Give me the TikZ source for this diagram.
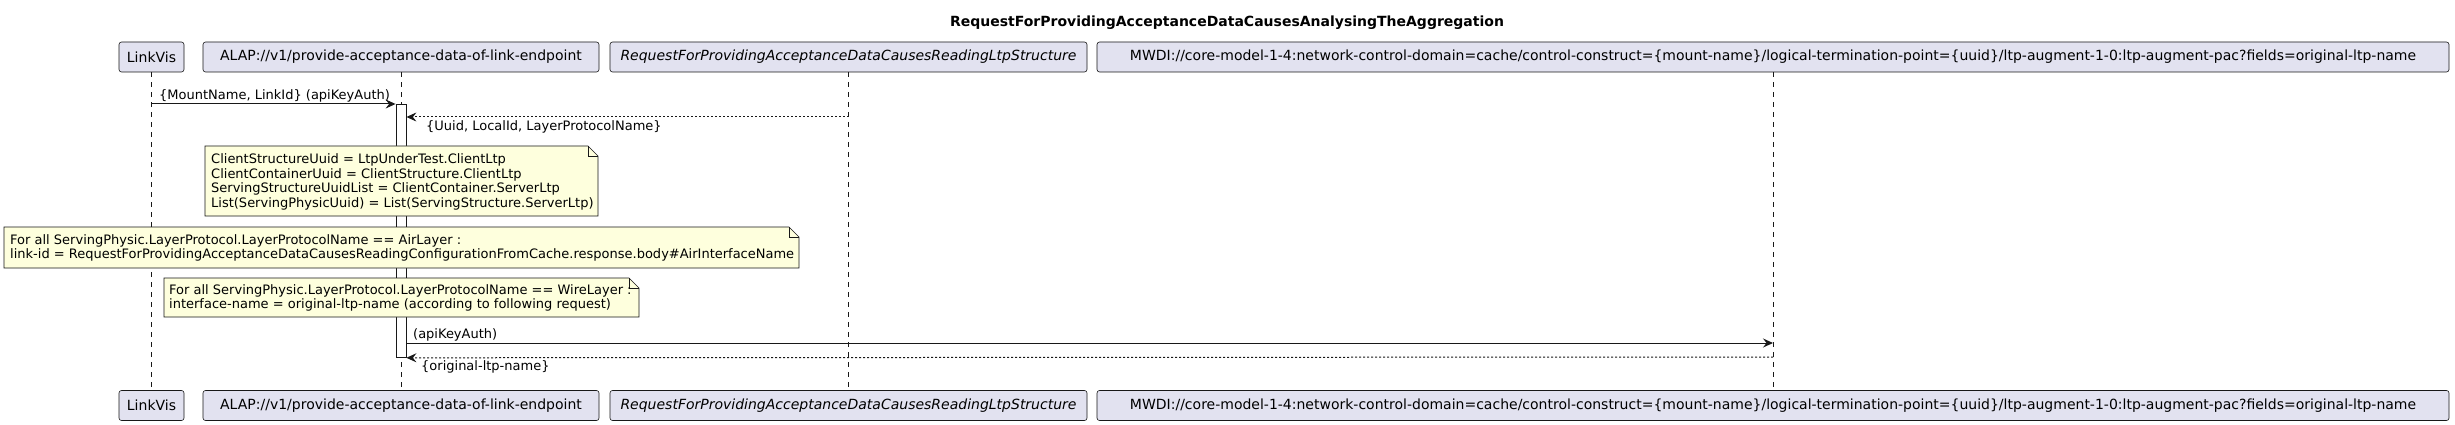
\documentclass[tikz,border=0pt]{standalone}
\usepackage{fontspec}
\setmainfont{DejaVu Sans}
\usetikzlibrary{arrows.meta}
\definecolor{partfill}{HTML}{E2E2F0}
\definecolor{partdraw}{HTML}{181818}
\definecolor{notefill}{HTML}{FEFFDD}
\tikzset{
  participant/.style={draw=partdraw, line width=0.6pt, fill=partfill, rounded corners=2.5pt,
    minimum height=30pt, inner xsep=0pt, inner ysep=0pt, font=\fontsize{14}{16}\selectfont},
  lifeline/.style={draw=partdraw, line width=0.5pt, dash pattern=on 5pt off 5pt},
  actbar/.style={draw=partdraw, fill=white, line width=0.8pt},
  msgarrow/.style={draw=partdraw, line width=1pt, -{Stealth[length=10pt,width=9pt,inset=3.5pt]}},
  retarrow/.style={msgarrow, dash pattern=on 2pt off 2pt},
  msglabel/.style={anchor=west, inner sep=0pt, font=\fontsize{13}{15}\selectfont},
  notetext/.style={anchor=west, inner sep=0pt, align=left, font=\fontsize{13}{14.7}\selectfont},
  notebody/.style={draw=partdraw, fill=notefill, line width=0.6pt},
  titletext/.style={inner sep=0pt, font=\bfseries\fontsize{14}{16}\selectfont}
}
\newcommand{\foldnote}[4]{%
  \filldraw[notebody] (#1,#2) -- ({#3-10},#2) -- (#3,{#2+10}) -- (#3,#4) -- (#1,#4) -- cycle;
  \draw[notebody, fill=none] ({#3-10},#2) -- ({#3-10},{#2+10}) -- (#3,{#2+10});
}
\begin{document}
\begin{tikzpicture}[x=1pt,y=-1pt]
\useasboundingbox (0,0) rectangle (2455,425);
\fill[white] (0,0) rectangle (2455,425);

\node[titletext] (title) at (1227,23) {RequestForProvidingAcceptanceDataCausesAnalysingTheAggregation};

% participants top
\node[participant, minimum width=65pt] (lvT) at (151.5,57) {LinkVis};
\node[participant, minimum width=396pt] (alT) at (401,57) {ALAP://v1/provide-acceptance-data-of-link-endpoint};
\node[participant, minimum width=477pt] (rqT) at (848.5,57) {\itshape RequestForProvidingAcceptanceDataCausesReadingLtpStructure};
\node[participant, minimum width=1352pt] (mwT) at (1773,57) {MWDI://core-model-1-4:network-control-domain=cache/control-construct=\{mount-name\}/logical-termination-point=\{uuid\}/ltp-augment-1-0:ltp-augment-pac?fields=original-ltp-name};

% participants bottom
\node[participant, minimum width=65pt] (lvB) at (151.5,405.5) {LinkVis};
\node[participant, minimum width=396pt] (alB) at (401,405.5) {ALAP://v1/provide-acceptance-data-of-link-endpoint};
\node[participant, minimum width=477pt] (rqB) at (848.5,405.5) {\itshape RequestForProvidingAcceptanceDataCausesReadingLtpStructure};
\node[participant, minimum width=1352pt] (mwB) at (1773,405.5) {MWDI://core-model-1-4:network-control-domain=cache/control-construct=\{mount-name\}/logical-termination-point=\{uuid\}/ltp-augment-1-0:ltp-augment-pac?fields=original-ltp-name};

% lifelines
\draw[lifeline] (lvT.south) -- (lvB.north);
\draw[lifeline] (alT.south) -- (alB.north);
\draw[lifeline] (rqT.south) -- (rqB.north);
\draw[lifeline] (mwT.south) -- (mwB.north);

% activation bar
\node[actbar, minimum width=10pt, minimum height=253pt, inner sep=0pt, anchor=north] (act) at (401,104) {};

% message points
\coordinate (m1s) at (lvT.south |- 0,104);
\coordinate (m1e) at (act.north west);
\coordinate (m2s) at (rqT.south |- 0,117);
\coordinate (m2e) at (act.east |- 0,117);
\coordinate (m3s) at (act.east |- 0,343);
\coordinate (m3e) at (mwT.south |- 0,343);
\coordinate (m4s) at (mwT.south |- 0,357);
\coordinate (m4e) at (act.south east);

\draw[msgarrow] (m1s) -- (m1e);
\node[msglabel] (l1) at (159,96) {\{MountName, LinkId\} (apiKeyAuth)};
\draw[retarrow] (m2s) -- (m2e);
\node[msglabel] (l2) at (426,127) {\{Uuid, LocalId, LayerProtocolName\}};

% notes
\foldnote{205}{146}{598}{216}
\node[notetext] (n1) at (211,182) {ClientStructureUuid = LtpUnderTest.ClientLtp\\ClientContainerUuid = ClientStructure.ClientLtp\\ServingStructureUuidList = ClientContainer.ServerLtp\\List(ServingPhysicUuid) = List(ServingStructure.ServerLtp)};
\foldnote{4}{227}{799}{268}
\node[notetext] (n2) at (10,248) {For all ServingPhysic.LayerProtocol.LayerProtocolName == AirLayer :\\link-id = RequestForProvidingAcceptanceDataCausesReadingConfigurationFromCache.response.body\#AirInterfaceName};
\foldnote{164}{278}{639}{317}
\node[notetext] (n3) at (169,298) {For all ServingPhysic.LayerProtocol.LayerProtocolName == WireLayer :\\interface-name = original-ltp-name (according to following request)};

\draw[msgarrow] (m3s) -- (m3e);
\node[msglabel] (l3) at (413,335) {(apiKeyAuth)};
\draw[retarrow] (m4s) -- (m4e);
\node[msglabel] (l4) at (421,367) {\{original-ltp-name\}};
\end{tikzpicture}
\end{document}
